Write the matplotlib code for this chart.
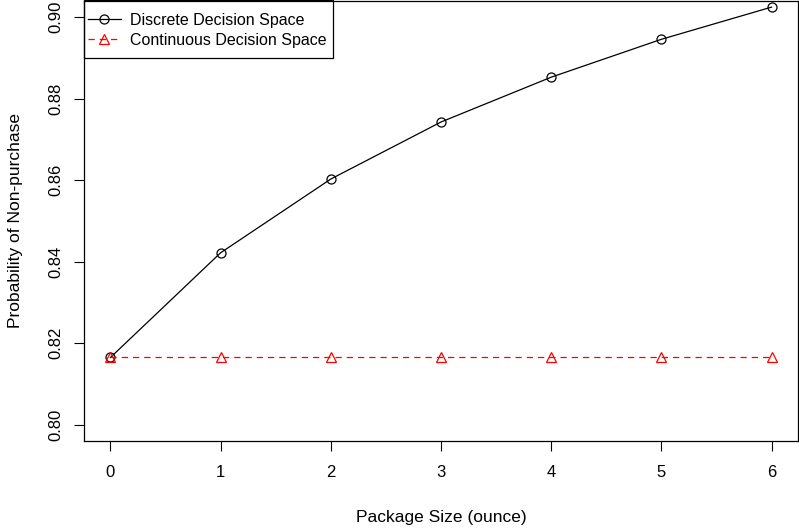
import matplotlib
matplotlib.use("Agg")
import matplotlib.pyplot as plt
from matplotlib.patches import Rectangle

package_size = [0, 1, 2, 3, 4, 5, 6]
discrete = [0.8165, 0.8422, 0.8603, 0.8743, 0.8853, 0.8946, 0.9025]
continuous = [0.8165, 0.8165, 0.8165, 0.8165, 0.8165, 0.8165, 0.8165]
y_ticks = [0.80, 0.82, 0.84, 0.86, 0.88, 0.90]
y_tick_labels = ["0.80", "0.82", "0.84", "0.86", "0.88", "0.90"]

plt.rcParams['font.family'] = ['Liberation Sans', 'DejaVu Sans']

W, H = 799, 529
fig = plt.figure(figsize=(W / 100, H / 100), dpi=100)
ax = fig.add_axes([84 / W, (H - 441) / H, (798 - 84) / W, (441 - 1) / H])

ax.plot(package_size, discrete, color='black', lw=0.9, marker='o', ms=6.5,
        mfc='none', mec='black', mew=0.9, label='Discrete Decision Space')
ax.plot(package_size, continuous, color='red', lw=0.9, ls=(0, (5, 4)), marker='^', ms=7,
        mfc='none', mec='red', mew=0.9, label='Continuous Decision Space')

ax.set_xlim(-0.24, 6.24)
ax.set_ylim(0.796, 0.904)
ax.set_xticks(package_size)
ax.set_yticks(y_ticks)
ax.set_yticklabels(y_tick_labels, rotation=90, va='center')
ax.tick_params(direction='out', length=7, width=0.8, labelsize=12, pad=10)
ax.tick_params(axis='y', pad=8)
for s in ax.spines.values():
    s.set_linewidth(0.9)

ax.set_xlabel('Package Size (ounce)', fontsize=12.5, labelpad=22)
ax.set_ylabel('Probability of Non-purchase', fontsize=12.5, labelpad=18)

leg = ax.legend(loc='upper left', fontsize=11.5, frameon=False,
                bbox_to_anchor=(82 / W, 1 - 7 / H), bbox_transform=fig.transFigure,
                borderaxespad=0, handlelength=2.1,
                handletextpad=0.55, borderpad=0.35, labelspacing=0.32)

# legend box (R style)
fig.patches.append(Rectangle((83.5 / W, 1 - 57.5 / H), (333 - 83.5) / W, 57.5 / H,
                             transform=fig.transFigure, fill=False,
                             edgecolor='black', linewidth=0.9, zorder=5))

fig.savefig('out.png', dpi=100)
